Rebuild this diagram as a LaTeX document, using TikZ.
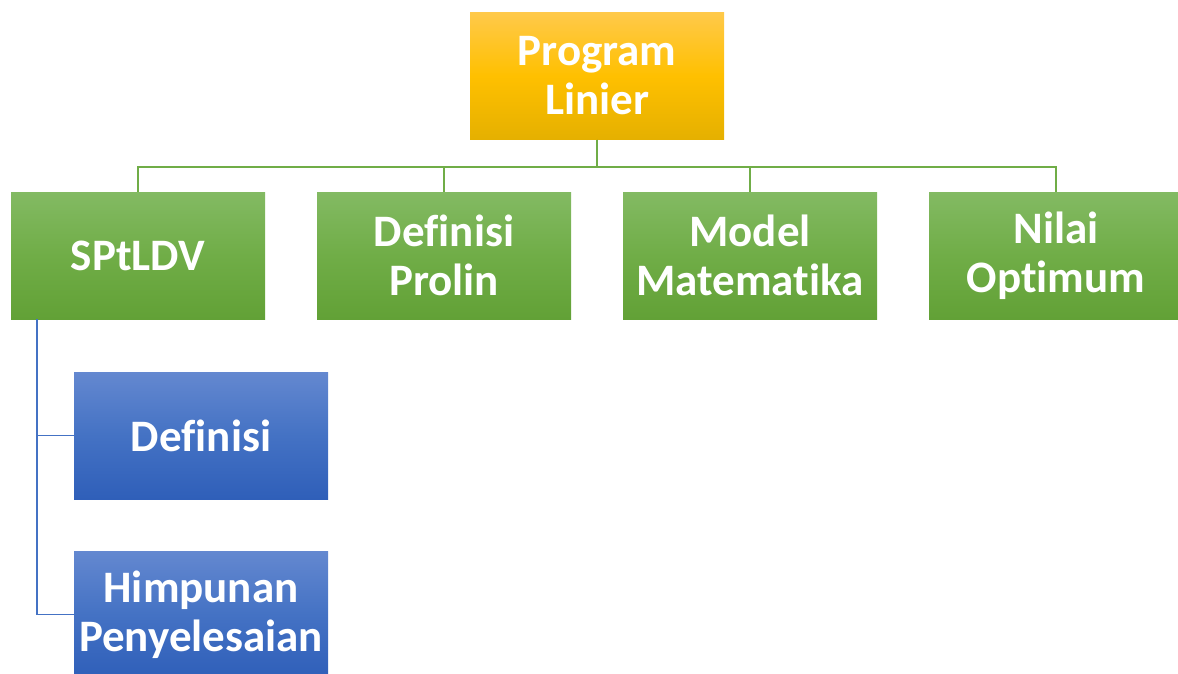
\documentclass[tikz,border=0pt]{standalone}
\usepackage{fontspec}
\setmainfont{Carlito}[Ligatures=NoCommon]
\usepackage{tikz}

\definecolor{goldA}{HTML}{FFC94A}
\definecolor{goldB}{HTML}{FFC000}
\definecolor{goldC}{HTML}{E5B000}
\definecolor{greenA}{HTML}{83BA63}
\definecolor{greenB}{HTML}{70AD47}
\definecolor{greenC}{HTML}{62A136}
\definecolor{blueA}{HTML}{6488D0}
\definecolor{blueB}{HTML}{4472C4}
\definecolor{blueC}{HTML}{2F5FB9}

\tikzset{
  box/.style={minimum width=254pt,minimum height=127pt,inner sep=0pt,align=center,
    text=white,font=\fontsize{45}{49}\selectfont\bfseries},
  goldbox/.style={box,top color=goldA,bottom color=goldC,middle color=goldB},
  greenbox/.style={box,top color=greenA,bottom color=greenC,middle color=greenB},
  bluebox/.style={box,top color=blueA,bottom color=blueC,middle color=blueB},
  greenline/.style={line width=1.6pt,greenB},
  blueline/.style={line width=1.6pt,blueB}
}

\begin{document}
\begin{tikzpicture}[x=1pt,y=-1pt]
\useasboundingbox (0,0) rectangle (1178,673);

\node[goldbox] (prolin) at (597,76) {Program\\Linier};

\node[greenbox] (sptldv) at (138,255.5) {SPtLDV};
\node[greenbox] (defprolin) at (444,255.5) {Definisi\\Prolin};
\node[greenbox] (model) at (750,255.5) {Model\\Matematika};
\node[greenbox] (optimum) at (1056,255.5) {Nilai\\Optimum};

\node[bluebox] (definisi) at (201,435.5) {Definisi};
\node[bluebox] (himpunan) at (201,614.5) {Himpunan\\Penyelesaian};

% connectors
\foreach \n in {sptldv,defprolin,model,optimum}{
\draw[greenline] (prolin.south) -- ++(0,27) -| (\n.north);}

\foreach \n in {definisi,himpunan}{
\draw[blueline] ([xshift=26pt]sptldv.south west) |- (\n.west);}

\end{tikzpicture}
\end{document}
